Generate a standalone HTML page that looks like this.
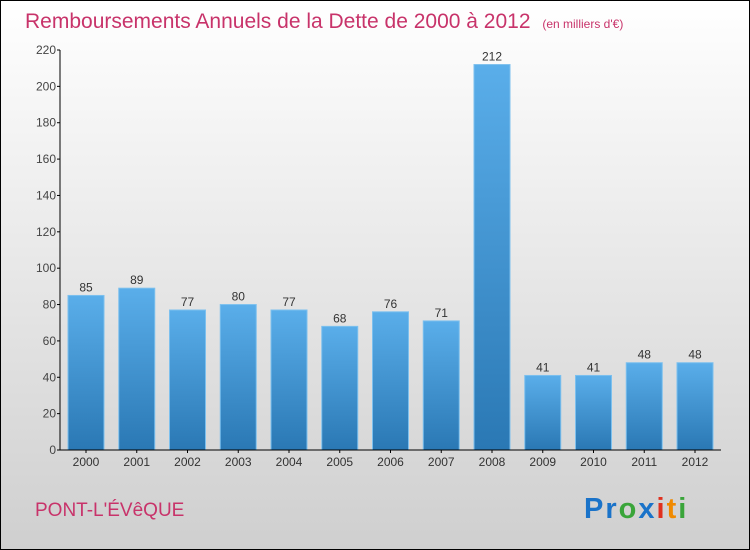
<!DOCTYPE html>
<html><head><meta charset="utf-8"><style>
body{margin:0}
#c{width:748px;height:548px;border:1px solid #000;background:linear-gradient(#fff,#cfcfcf);position:relative;font-family:"Liberation Sans",sans-serif;overflow:hidden}
</style></head><body>
<div id="c">
<svg id="s" width="748" height="548" xmlns="http://www.w3.org/2000/svg">
<defs><linearGradient id="g" x1="0" y1="0" x2="0" y2="1"><stop offset="0" stop-color="#5aaeea"/><stop offset="1" stop-color="#2a78b4"/></linearGradient></defs>
<text x="24" y="27" font-size="21" fill="#c8336a">Remboursements Annuels de la Dette de 2000 à 2012 <tspan font-size="12" dx="6">(en milliers d'€)</tspan></text>
<text x="34" y="515" font-size="19" fill="#c8336a">PONT-L'ÉVêQUE</text>
<text x="583" y="517" font-size="29" font-weight="bold" letter-spacing="2"><tspan fill="#1a73c9">Pr</tspan><tspan fill="#3aa53a">o</tspan><tspan fill="#1a73c9">x</tspan><tspan fill="#e0301e">i</tspan><tspan fill="#f08a00">t</tspan><tspan fill="#3aa53a">i</tspan></text>
</svg>
</div>
<script>
const years=["2000","2001","2002","2003","2004","2005","2006","2007","2008","2009","2010","2011","2012"];
const values=[85,89,77,80,77,68,76,71,212,41,41,48,48];
const ticks=[0,20,40,60,80,100,120,140,160,180,200,220];
const s=document.getElementById('s');const NS='http://www.w3.org/2000/svg';
const x0=59,y0=449,yMax=220,h=400,step=50.75,bw=36;
const y=v=>y0-v/yMax*h;const xc=i=>x0+26+i*step;
function el(t,a){const e=document.createElementNS(NS,t);for(const k in a)e.setAttribute(k,a[k]);s.appendChild(e);return e;}
ticks.forEach(t=>{
 const l=el('line',{x1:x0-3,x2:x0,y1:y(t),y2:y(t),stroke:'#000'});
 
 
 const tx=el('text',{x:x0-4,y:y(t)+4,'font-size':12,fill:'#444','text-anchor':'end'});tx.textContent=t;
 
 
});
values.forEach((v,i)=>{
 const r=el('rect',{x:xc(i)-bw/2,y:y(v),width:bw,height:y0-y(v),fill:'url(#g)',stroke:'#7cc0ee','stroke-width':1});
 
 
 const t=el('text',{x:xc(i),y:y(v)-4,'font-size':12,fill:'#333','text-anchor':'middle'});t.textContent=v;
 
 
 const xl=el('text',{x:xc(i),y:y0+16,'font-size':12,fill:'#333','text-anchor':'middle'});xl.textContent=years[i];
 
 
 const tk=el('line',{x1:xc(i),x2:xc(i),y1:y0,y2:y0+3,stroke:'#000'});
 
 
});
const ya=el('line',{x1:x0,x2:x0,y1:y(220),y2:y0,stroke:'#000'});


const xa=el('line',{x1:x0,x2:720,y1:y0,y2:y0,stroke:'#000'});


</script>
</body></html>
